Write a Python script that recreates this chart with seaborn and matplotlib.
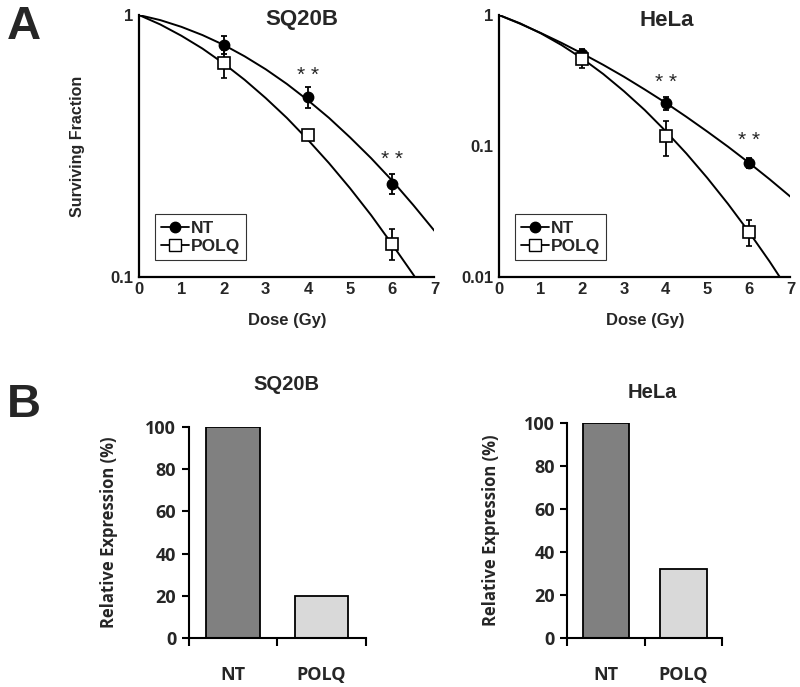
import numpy as np
import pandas as pd
import matplotlib
matplotlib.use("Agg")
import matplotlib.pyplot as plt
import seaborn as sns
from matplotlib.lines import Line2D

sns.set_style("white")
plt.rcParams['font.family'] = ['Liberation Sans', 'DejaVu Sans']

# clonogenic survival, measured points
dose = [2, 4, 6]
sq_nt = [0.77, 0.485, 0.227]
sq_nt_err = [0.06, 0.045, 0.02]
sq_polq = [0.654, 0.348, 0.134]
sq_polq_err = [0.08, 0.01, 0.018]
he_nt = [0.508, 0.212, 0.0745]
he_nt_err = [0.04, 0.025, 0.007]
he_polq = [0.465, 0.119, 0.0221]
he_polq_err = [0.07, 0.035, 0.005]

# fitted curves
curve_dose = [0, 0.5, 1, 1.5, 2, 2.5, 3, 3.5, 4, 4.5, 5, 5.5, 6, 6.5, 7]
sq_nt_fit = [1, 0.957, 0.902, 0.839, 0.770, 0.696, 0.621, 0.546, 0.473,
             0.405, 0.341, 0.284, 0.233, 0.188, 0.150]
sq_polq_fit = [1, 0.921, 0.834, 0.745, 0.654, 0.566, 0.482, 0.405, 0.334,
               0.272, 0.218, 0.172, 0.133, 0.102, 0.0766]
he_nt_fit = [1, 0.860, 0.730, 0.613, 0.508, 0.417, 0.338, 0.270, 0.214,
             0.167, 0.129, 0.0988, 0.0746, 0.0557, 0.0410]
he_polq_fit = [1, 0.866, 0.726, 0.590, 0.465, 0.355, 0.262, 0.188, 0.130,
               0.0876, 0.0571, 0.0361, 0.0221, 0.0131, 0.0075]

# significance marks: (dose, y)
sq_stars = [(4, 0.59), (6, 0.282)]
he_stars = [(4, 0.305), (6, 0.111)]

# relative expression
groups = ['NT', 'POLQ']
sq_expr = [100, 20]
he_expr = [100, 32]

bar_font = ['Open Sans', 'DejaVu Sans']

fig = plt.figure(figsize=(8, 6.87), dpi=100)


def survival(ax, nt, nt_err, polq, polq_err, nt_fit, polq_fit, stars, ymin, yticks, ylabels):
    df = pd.DataFrame({'dose': curve_dose * 2,
                       'sf': nt_fit + polq_fit,
                       'grp': ['NT'] * len(curve_dose) + ['POLQ'] * len(curve_dose)})
    sns.lineplot(data=df, x='dose', y='sf', units='grp', estimator=None,
                 color='black', lw=1.4, ax=ax, legend=False)
    ax.errorbar(dose, nt, yerr=nt_err, fmt='o', color='black', ms=7.5,
                capsize=2.5, elinewidth=1.3, capthick=1.3, zorder=5)
    ax.errorbar(dose, polq, yerr=polq_err, fmt='s', mfc='white', mec='black',
                ecolor='black', ms=8.5, mew=1.2, capsize=2.5, elinewidth=1.3,
                capthick=1.3, zorder=5)
    for x, y in stars:
        ax.text(x, y, '* *', ha='center', va='center', fontsize=15)
    ax.set_yscale('log')
    ax.set_ylim(ymin, 1)
    ax.set_xlim(0, 7)
    ax.set_yticks(yticks)
    ax.set_yticklabels(ylabels)
    ax.minorticks_off()
    ax.set_xticks(range(8))
    ax.tick_params(length=0, labelsize=12, pad=4)
    for t in ax.get_xticklabels() + ax.get_yticklabels():
        t.set_fontweight('bold')
    for s in ['top', 'right']:
        ax.spines[s].set_visible(False)
    for s in ['left', 'bottom']:
        ax.spines[s].set_color('black')
        ax.spines[s].set_linewidth(1.6)
    ax.set_xlabel('Dose (Gy)', fontsize=12, fontweight='bold')
    ax.xaxis.set_label_coords(0.5, -0.137)
    ax.set_ylabel('')
    handles = [Line2D([], [], color='black', marker='o', ms=7.5, lw=1.3),
               Line2D([], [], color='black', marker='s', mfc='white', ms=8.5, lw=1.3)]
    leg = ax.legend(handles, groups, loc='lower left', bbox_to_anchor=(0.025, 0.03),
                    frameon=True, fancybox=False, handlelength=1.6,
                    handletextpad=0.1, borderpad=0.35, labelspacing=0.2,
                    prop={'weight': 'bold', 'size': 12.5})
    leg.get_frame().set_edgecolor('black')
    leg.get_frame().set_linewidth(0.8)


ax1 = fig.add_axes([0.174, 0.597, 0.369, 0.381])
survival(ax1, sq_nt, sq_nt_err, sq_polq, sq_polq_err, sq_nt_fit, sq_polq_fit,
         sq_stars, 0.1, [0.1, 1], ['0.1', '1'])
ax1.set_ylabel('Surviving Fraction', fontsize=11.5, fontweight='bold')
ax1.yaxis.set_label_coords(-0.183, 0.5)

ax2 = fig.add_axes([0.624, 0.597, 0.364, 0.381])
survival(ax2, he_nt, he_nt_err, he_polq, he_polq_err, he_nt_fit, he_polq_fit,
         he_stars, 0.01, [0.01, 0.1, 1], ['0.01', '0.1', '1'])

fig.text(302 / 800, 1 - 20 / 687, 'SQ20B', ha='center', va='center', fontsize=16, fontweight='bold')
fig.text(667 / 800, 1 - 20 / 687, 'HeLa', ha='center', va='center', fontsize=16, fontweight='bold')


def expression(ax, vals):
    df = pd.DataFrame({'grp': groups, 'val': vals})
    sns.barplot(data=df, x='grp', y='val', hue='grp', palette=['#808080', '#d9d9d9'],
                width=0.6, edgecolor='black', linewidth=1.3, legend=False, ax=ax)
    ax.set_xlim(-0.5, 1.5)
    ax.set_ylim(0, 100)
    ax.set_yticks(range(0, 101, 20))
    ax.set_xticks([0, 1])
    ax.set_xticks([-0.5, 0.5, 1.5], minor=True)
    ax.tick_params(axis='x', which='major', length=0, pad=20)
    ax.tick_params(axis='x', which='minor', length=6, width=1.5, direction='out', color='black', bottom=True)
    ax.tick_params(axis='y', length=5, width=1.5, direction='out', color='black', left=True, pad=4)
    for t in ax.get_xticklabels() + ax.get_yticklabels():
        t.set_fontfamily(bar_font)
        t.set_fontweight('bold')
        t.set_fontsize(13)
    for s in ['top', 'right']:
        ax.spines[s].set_visible(False)
    for s in ['left', 'bottom']:
        ax.spines[s].set_color('black')
        ax.spines[s].set_linewidth(1.5)
    ax.set_xlabel('')
    ax.set_ylabel('Relative Expression (%)', fontsize=12, fontweight='bold', fontfamily=bar_font)


ax3 = fig.add_axes([0.236, 0.0713, 0.221, 0.307])
expression(ax3, sq_expr)
ax3.yaxis.set_label_coords(-0.40, 0.5)

ax4 = fig.add_axes([0.709, 0.0713, 0.194, 0.313])
expression(ax4, he_expr)
ax4.yaxis.set_label_coords(-0.43, 0.5)

fig.text(286 / 800, 1 - 385 / 687, 'SQ20B', ha='center', va='center', fontsize=14.5, fontweight='bold')
fig.text(652 / 800, 1 - 392 / 687, 'HeLa', ha='center', va='center', fontsize=14.5, fontweight='bold')

fig.text(0.008, 1 - 27 / 687, 'A', ha='left', va='center', fontsize=34, fontweight='bold')
fig.text(0.008, 1 - 405 / 687, 'B', ha='left', va='center', fontsize=34, fontweight='bold')

fig.savefig('out.png', dpi=100)
